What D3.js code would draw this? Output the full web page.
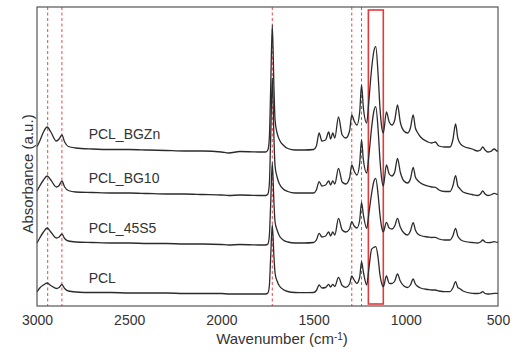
<!DOCTYPE html>
<html>
<head>
<meta charset="utf-8">
<script src="https://cdn.jsdelivr.net/npm/d3@7"></script>
<style>
  html, body { margin: 0; padding: 0; background: #fff; }
  svg { display: block; font-family: "Liberation Sans", Arial, sans-serif; }
</style>
</head>
<body>
<div id="chart"></div>
<script>
/* ── Data ──────────────────────────────────────────────────────────────── */
const wavenumbers = [3000, 2985, 2965, 2945, 2925, 2895, 2880, 2865, 2850, 2830,
  2790, 2700, 2600, 2500, 2400, 2300, 2200, 2100, 2000, 1960,
  1900, 1800, 1760, 1748, 1740, 1733, 1724, 1715, 1709, 1698,
  1685, 1665, 1640, 1600, 1550, 1500, 1485, 1470, 1455, 1435,
  1418, 1408, 1396, 1385, 1365, 1345, 1325, 1305, 1293, 1280,
  1265, 1250, 1240, 1230, 1212, 1200, 1185, 1174, 1163, 1150,
  1140, 1130, 1122, 1105, 1090, 1075, 1060, 1045, 1030, 1010,
  990, 975, 960, 948, 938, 920, 880, 860, 840, 820,
  790, 760, 745, 730, 718, 710, 690, 640, 610, 595,
  583, 570, 555, 540, 520, 505, 500];

// stacked absorbance (a.u.), offsets already applied
const pclBGZn = [1.593, 1.65, 1.74, 1.79, 1.74, 1.65, 1.67, 1.71, 1.64, 1.595,
  1.58, 1.57, 1.565, 1.565, 1.56, 1.555, 1.55, 1.55, 1.54, 1.53,
  1.545, 1.54, 1.54, 1.56, 1.68, 2.16, 2.81, 2.18, 1.86, 1.73,
  1.66, 1.61, 1.575, 1.56, 1.56, 1.565, 1.60, 1.73, 1.65, 1.66,
  1.74, 1.67, 1.73, 1.68, 1.89, 1.71, 1.68, 1.75, 1.91, 1.85,
  1.81, 1.94, 2.21, 1.98, 1.83, 2.06, 2.38, 2.54, 2.593, 2.31,
  1.98, 1.78, 1.73, 1.94, 1.84, 1.81, 1.86, 2.01, 1.84, 1.75,
  1.73, 1.78, 1.91, 1.78, 1.74, 1.69, 1.64, 1.63, 1.64, 1.60,
  1.59, 1.59, 1.66, 1.82, 1.68, 1.64, 1.60, 1.57, 1.55, 1.56,
  1.59, 1.56, 1.54, 1.545, 1.57, 1.55, 1.55];

const pclBG10 = [1.15, 1.20, 1.26, 1.30, 1.26, 1.19, 1.205, 1.25, 1.19, 1.155,
  1.14, 1.135, 1.13, 1.13, 1.125, 1.12, 1.12, 1.115, 1.11, 1.105,
  1.11, 1.105, 1.105, 1.12, 1.22, 1.66, 2.28, 1.68, 1.40, 1.29,
  1.22, 1.17, 1.145, 1.13, 1.13, 1.13, 1.16, 1.243, 1.20, 1.21,
  1.25, 1.21, 1.25, 1.22, 1.377, 1.24, 1.22, 1.28, 1.41, 1.35,
  1.31, 1.43, 1.66, 1.46, 1.33, 1.51, 1.79, 1.94, 1.993, 1.76,
  1.46, 1.26, 1.20, 1.41, 1.32, 1.30, 1.34, 1.477, 1.34, 1.25,
  1.23, 1.27, 1.387, 1.29, 1.26, 1.23, 1.20, 1.19, 1.187, 1.16,
  1.145, 1.145, 1.20, 1.303, 1.20, 1.18, 1.14, 1.115, 1.105, 1.12,
  1.15, 1.12, 1.105, 1.11, 1.127, 1.117, 1.117];

const pcl45S5 = [0.63, 0.68, 0.74, 0.78, 0.74, 0.68, 0.69, 0.72, 0.675, 0.65,
  0.64, 0.635, 0.63, 0.63, 0.625, 0.625, 0.62, 0.62, 0.615, 0.61,
  0.615, 0.61, 0.61, 0.62, 0.70, 1.01, 1.43, 1.03, 0.84, 0.76,
  0.70, 0.66, 0.64, 0.63, 0.63, 0.635, 0.66, 0.727, 0.69, 0.70,
  0.74, 0.70, 0.74, 0.71, 0.877, 0.76, 0.74, 0.77, 0.843, 0.80,
  0.78, 0.86, 1.037, 0.91, 0.777, 0.93, 1.13, 1.24, 1.277, 1.11,
  0.91, 0.78, 0.743, 0.837, 0.78, 0.77, 0.80, 0.877, 0.79, 0.73,
  0.71, 0.75, 0.833, 0.76, 0.727, 0.705, 0.69, 0.685, 0.687, 0.67,
  0.66, 0.66, 0.70, 0.777, 0.70, 0.677, 0.65, 0.635, 0.63, 0.64,
  0.66, 0.64, 0.633, 0.635, 0.643, 0.637, 0.637];

const pclNeat = [0.14, 0.18, 0.21, 0.23, 0.205, 0.175, 0.185, 0.215, 0.175, 0.15,
  0.14, 0.135, 0.135, 0.13, 0.13, 0.13, 0.125, 0.125, 0.125, 0.12,
  0.12, 0.12, 0.12, 0.13, 0.20, 0.48, 0.81, 0.49, 0.33, 0.25,
  0.20, 0.165, 0.145, 0.135, 0.133, 0.135, 0.155, 0.21, 0.18, 0.185,
  0.217, 0.19, 0.217, 0.195, 0.287, 0.205, 0.187, 0.22, 0.30, 0.26,
  0.227, 0.29, 0.443, 0.34, 0.21, 0.38, 0.57, 0.585, 0.593, 0.48,
  0.31, 0.22, 0.193, 0.30, 0.227, 0.225, 0.25, 0.32, 0.25, 0.20,
  0.185, 0.21, 0.27, 0.22, 0.20, 0.18, 0.165, 0.16, 0.16, 0.15,
  0.143, 0.143, 0.18, 0.243, 0.185, 0.177, 0.15, 0.127, 0.125, 0.13,
  0.143, 0.125, 0.12, 0.122, 0.127, 0.127, 0.127];

const seriesNames  = ['PCL_BGZn', 'PCL_BG10', 'PCL_45S5', 'PCL'];
const seriesValues = [pclBGZn, pclBG10, pcl45S5, pclNeat];

const xTicks      = [3000, 2500, 2000, 1500, 1000, 500];
const markerLines = [2942, 2865, 1724, 1293, 1240];   // dashed guides (cm-1)
const highlightBand = [1203, 1122];                    // boxed C-O-C band (cm-1)

/* ── Layout ────────────────────────────────────────────────────────────── */
const W = 520, H = 354;
const margin = { top: 7, right: 22, bottom: 48, left: 37 };
const innerW = W - margin.left - margin.right;
const innerH = H - margin.top - margin.bottom;

const LINE = '#2b2b2b';
const RED  = '#e8474c';

const svg = d3.select('#chart')
  .append('svg')
    .attr('width', W)
    .attr('height', H);

const g = svg.append('g')
  .attr('transform', `translate(${margin.left},${margin.top})`);

/* ── Scales ────────────────────────────────────────────────────────────── */
const x = d3.scaleLinear().domain([3000, 500]).range([0, innerW]);
const y = d3.scaleLinear().domain([0, 2.99]).range([innerH, 0]);

/* ── Guides ────────────────────────────────────────────────────────────── */
g.selectAll('.guide')
  .data(markerLines)
  .join('line')
    .attr('class', 'guide')
    .attr('x1', d => x(d)).attr('x2', d => x(d))
    .attr('y1', 0).attr('y2', innerH)
    .attr('stroke', RED)
    .attr('stroke-width', 1)
    .attr('stroke-dasharray', '3,2.5');

g.append('rect')
  .attr('x', x(highlightBand[0]))
  .attr('width', x(highlightBand[1]) - x(highlightBand[0]))
  .attr('y', y(2.96))
  .attr('height', y(0.02) - y(2.96))
  .attr('fill', 'none')
  .attr('stroke', '#e03a3a')
  .attr('stroke-width', 1.6);

/* ── Spectra ───────────────────────────────────────────────────────────── */
const line = d3.line()
  .x((d, i) => x(wavenumbers[i]))
  .y(d => y(d))
  .curve(d3.curveMonotoneX);

g.selectAll('.spectrum')
  .data(seriesValues)
  .join('path')
    .attr('class', 'spectrum')
    .attr('d', line)
    .attr('fill', 'none')
    .attr('stroke', LINE)
    .attr('stroke-width', 1.3)
    .attr('stroke-linejoin', 'round');

// sample labels sit a little above each baseline (at 2700 cm-1)
const i2700 = wavenumbers.indexOf(2700);
g.selectAll('.series-label')
  .data(seriesNames)
  .join('text')
    .attr('class', 'series-label')
    .attr('x', x(2720))
    .attr('y', (d, i) => y(seriesValues[i][i2700] + 0.1))
    .style('font-size', '14px')
    .style('fill', '#333')
    .text(d => d);

/* ── Frame & axes ──────────────────────────────────────────────────────── */
g.append('rect')
  .attr('width', innerW)
  .attr('height', innerH)
  .attr('fill', 'none')
  .attr('stroke', '#555')
  .attr('stroke-width', 1.2);

const xAxis = g.append('g')
  .attr('transform', `translate(0,${innerH})`)
  .call(d3.axisBottom(x).tickValues(xTicks).tickSize(0).tickPadding(9).tickFormat(d3.format('d')));
xAxis.select('.domain').remove();
xAxis.selectAll('text')
  .style('font-size', '14px')
  .style('font-family', '"Liberation Sans", Arial, sans-serif')
  .style('fill', '#333');

const xTitle = svg.append('text')
  .attr('x', 282)
  .attr('y', 344)
  .attr('text-anchor', 'middle')
  .style('font-size', '15px')
  .style('fill', '#333');
xTitle.append('tspan').text('Wavenumber (cm');
xTitle.append('tspan').attr('dy', '-0.45em').style('font-size', '10px').text('-1');
xTitle.append('tspan').attr('dy', '0.3em').text(')');

svg.append('text')
  .attr('transform', 'translate(33,174) rotate(-90)')
  .attr('text-anchor', 'middle')
  .style('font-size', '15px')
  .style('fill', '#333')
  .text('Absorbance (a.u.)');
</script>
</body>
</html>
